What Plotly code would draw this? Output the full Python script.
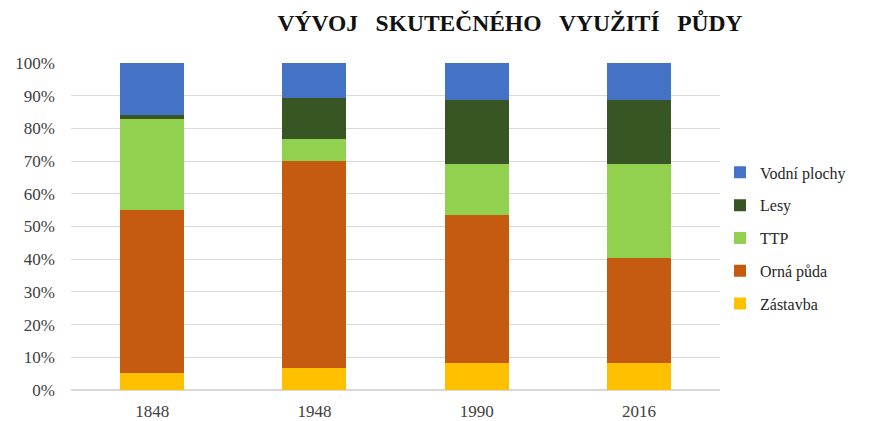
import plotly.graph_objects as go

years = ["1848", "1948", "1990", "2016"]
zastavba = [5.3, 6.6, 8.2, 8.2]
orna = [49.8, 63.3, 45.4, 32.1]
ttp = [27.8, 6.8, 15.6, 28.9]
lesy = [1.2, 12.6, 19.6, 19.6]
vodni = [15.9, 10.7, 11.2, 11.2]

series = [
    ("Zástavba", zastavba, "#FFC000"),
    ("Orná půda", orna, "#C55A11"),
    ("TTP", ttp, "#92D050"),
    ("Lesy", lesy, "#375623"),
    ("Vodní plochy", vodni, "#4472C4"),
]

fig = go.Figure()
for i, (name, vals, col) in enumerate(series):
    fig.add_trace(go.Bar(
        x=years, y=vals, name=name, marker=dict(color=col, line=dict(width=0)),
        legendgroup=name, legendrank=100 - i,
    ))

font_family = "Liberation Serif"
W, H = 865, 413  # page body has 8px margin
fig.update_layout(
    barmode="stack",
    bargap=0.605,
    width=W, height=H,
    margin=dict(l=63, r=153, t=55, b=31, autoexpand=False),
    paper_bgcolor="white", plot_bgcolor="white",
    font=dict(family=font_family, size=16, color="#404040"),
    title=dict(
        text="<b>VÝVOJ\u00a0\u00a0\u00a0SKUTEČNÉHO\u00a0\u00a0\u00a0VYUŽITÍ\u00a0\u00a0\u00a0PŮDY</b>",
        x=(510 - 71) / 649, xref="paper", xanchor="center",
        y=1 - 15 / H, yref="container", yanchor="middle",
        font=dict(family=font_family, size=23.5, color="#111111"),
    ),
    legend=dict(
        traceorder="grouped", tracegroupgap=9,
        x=1.0, xanchor="left", y=0.465, yanchor="middle",
        font=dict(family=font_family, size=16, color="#262626"),
        itemwidth=30,
    ),
    yaxis=dict(
        range=[0, 100], tickvals=[0, 10, 20, 30, 40, 50, 60, 70, 80, 90, 100],
        ticktext=[f"{v}%" for v in range(0, 101, 10)],
        showgrid=True, gridcolor="#D9D9D9", gridwidth=1,
        zeroline=True, zerolinecolor="#D9D9D9", ticks="", showline=False,
        ticklabelstandoff=15, automargin=False,
        tickfont=dict(family=font_family, size=17, color="#404040"),
    ),
    xaxis=dict(showline=False, ticks="", ticklabelstandoff=9, automargin=False,
               tickfont=dict(family=font_family, size=17, color="#404040")),
)

fig.write_html("out.html")
